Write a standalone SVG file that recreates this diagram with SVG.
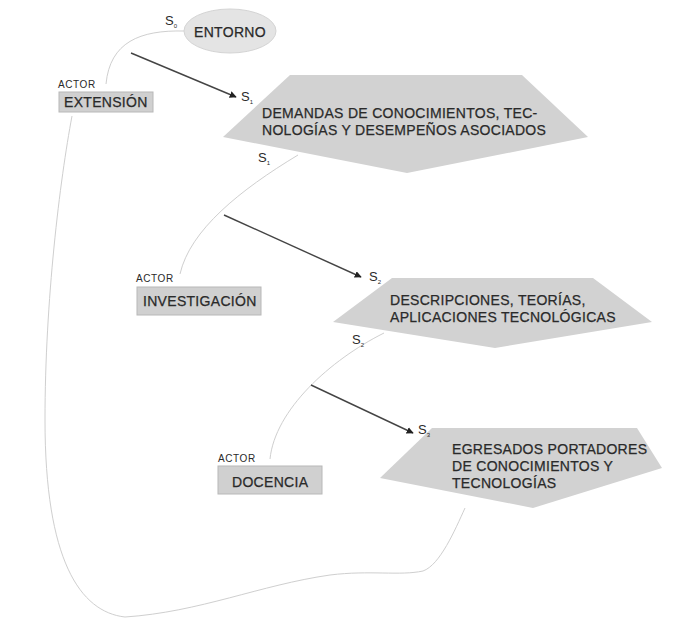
<svg xmlns="http://www.w3.org/2000/svg" width="686" height="620" viewBox="0 0 686 620">
<defs>
<style>
text{font-family:"Liberation Sans",Arial,sans-serif;fill:#2a2a2a}
.big{font-size:14px;letter-spacing:0.3px;stroke:#2a2a2a;stroke-width:0.25px}
.act{font-size:10px;letter-spacing:0.6px}
.s{font-size:13px}
.sub{font-size:6px}
.shape{fill:#d2d2d2;stroke:none}
.box{fill:#d0d0d0;stroke:#b8b8b8;stroke-width:1}
.curve{fill:none;stroke:#cfcfcf;stroke-width:1}
.arr{fill:none;stroke:#444;stroke-width:1.4;marker-end:url(#ah)}
</style>
<marker id="ah" viewBox="0 0 10 10" refX="9" refY="5" markerWidth="7" markerHeight="7" orient="auto" markerUnits="userSpaceOnUse"><path d="M0,0 L10,5 L0,10 z" fill="#222"/></marker>
</defs>
<rect width="686" height="620" fill="#fff"/>
<g id="connectors">
<path class="curve" d="M184,31 C140,30 110,42 106,84"/>
<path class="curve" d="M298,155 C240,190 190,230 180,274"/>
<path class="curve" d="M384,333 C330,360 275,410 270,459"/>
<path class="curve" d="M465,508 C455,530 440,565 423,571 C400,576 370,570 330,575 C260,585 200,612 125,617 C80,612 45,560 45,420 C45,300 60,180 72,116"/>
<line class="arr" x1="131" y1="53" x2="236" y2="97"/>
<line class="arr" x1="224" y1="215" x2="361" y2="277"/>
<line class="arr" x1="311" y1="385" x2="413" y2="433"/>
</g>
<g id="entorno">
<ellipse cx="230" cy="31" rx="46" ry="22" fill="#e4e4e4" stroke="#d4d4d4"/>
<text class="big" x="230" y="37" text-anchor="middle">ENTORNO</text>
<text class="s" x="165" y="25">S<tspan class="sub" dy="3">0</tspan></text>
</g>
<g id="extension">
<text class="act" x="58" y="88">ACTOR</text>
<rect class="box" x="59" y="92" width="94" height="20"/>
<text class="big" x="64" y="107">EXTENSIÓN</text>
</g>
<g id="demandas">
<polygon class="shape" points="290,75 522,75 588,137 407,173 223,137"/>
<text class="big" x="262" y="118">DEMANDAS DE CONOCIMIENTOS, TEC-</text>
<text class="big" x="262" y="135">NOLOGÍAS Y DESEMPEÑOS ASOCIADOS</text>
<text class="s" x="241" y="101">S<tspan class="sub" dy="3">1</tspan></text>
<text class="s" x="258" y="162">S<tspan class="sub" dy="3">1</tspan></text>
</g>
<g id="investigacion">
<text class="act" x="136" y="282">ACTOR</text>
<rect class="box" x="137" y="287" width="124" height="28"/>
<text class="big" x="143" y="306">INVESTIGACIÓN</text>
</g>
<g id="descripciones">
<polygon class="shape" points="392,278 593,278 652,322 495,348 333,322"/>
<text class="big" x="390" y="305">DESCRIPCIONES, TEORÍAS,</text>
<text class="big" x="390" y="322">APLICACIONES TECNOLÓGICAS</text>
<text class="s" x="369" y="281">S<tspan class="sub" dy="3">2</tspan></text>
<text class="s" x="352" y="344">S<tspan class="sub" dy="3">2</tspan></text>
</g>
<g id="docencia">
<text class="act" x="218" y="462">ACTOR</text>
<rect class="box" x="218" y="466" width="104" height="28"/>
<text class="big" x="232" y="487">DOCENCIA</text>
</g>
<g id="egresados">
<polygon class="shape" points="432,428 637,428 662,468 533,508 380,478"/>
<text class="big" x="452" y="454">EGRESADOS PORTADORES</text>
<text class="big" x="452" y="471">DE CONOCIMIENTOS Y</text>
<text class="big" x="452" y="488">TECNOLOGÍAS</text>
<text class="s" x="418" y="434">S<tspan class="sub" dy="3">3</tspan></text>
</g>
</svg>
